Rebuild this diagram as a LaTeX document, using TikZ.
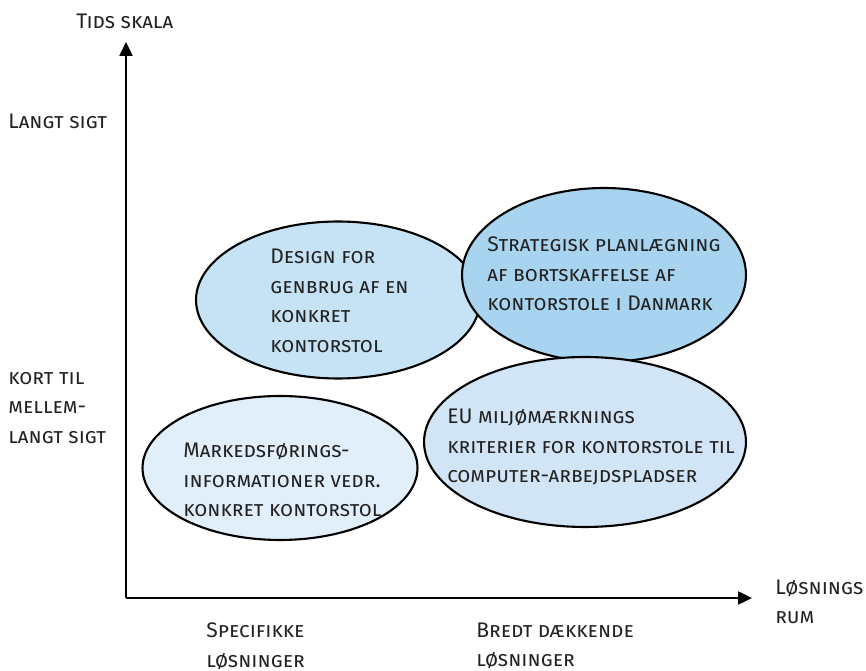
\documentclass[tikz,border=0pt]{standalone}
\usepackage{fontspec}
\setmainfont{Fira Sans}
\usepackage{tikz}
\usetikzlibrary{arrows.meta,shapes.geometric}

\definecolor{blobA}{HTML}{C6E2F5}
\definecolor{blobB}{HTML}{A9D4F0}
\definecolor{blobC}{HTML}{E1EFFB}
\definecolor{blobD}{HTML}{D2E5F6}
\definecolor{txtgray}{HTML}{222222}

\tikzset{
  axis/.style={line width=1.4pt, -{Triangle[length=0.28cm, width=0.26cm]}},
  blob/.style={ellipse, draw=black, line width=1.2pt, inner sep=0pt},
  lbl/.style={anchor=west, align=left, inner sep=0pt, text=txtgray,
    font=\fontsize{12}{16.8}\selectfont\scshape}
}

\begin{document}
\begin{tikzpicture}[x=0.02cm, y=-0.02cm]
          \useasboundingbox (0,0) rectangle (866,671);
          \coordinate (O) at (126,598);
          \coordinate (Ytop) at (126,42);
          \coordinate (Xend) at (752,598);

          \draw[axis] (O) -- (Ytop);
          \draw[axis] (O) -- (Xend);

          % ellipses, later ones drawn on top
          \node[blob, fill=blobA, minimum width=5.68cm, minimum height=3.14cm]
          (design) at (338,300) {};
          \node[blob, fill=blobB, minimum width=5.68cm, minimum height=3.48cm]
          (strat) at (604,275) {};
          \node[blob, fill=blobC, minimum width=5.5cm, minimum height=2.88cm]
          (marked) at (280,468) {};
          \node[blob, fill=blobD, minimum width=6.44cm, minimum height=3.4cm]
          (eu) at (585,442) {};

          \node[lbl] (designtxt) at (270,301)
          {Design for\\genbrug af en\\konkret\\kontorstol};
          \node[lbl] (strattxt) at (487,274)
          {Strategisk planlægning\\af bortskaffelse af\\kontorstole i Danmark};
          \node[lbl] (markedtxt) at (183,480)
          {Markedsførings-\\informationer vedr.\\konkret kontorstol};
          \node[lbl] (eutxt) at (447,447)
          {EU miljømærknings\\kriterier for kontorstole til\\computer-arbejdspladser};

          % axis labels
          \node[lbl] (tids) at (76,21) {Tids skala};
          \node[lbl] (langt) at (8,121) {Langt sigt};
          \node[lbl] (kort) at (8,408) {kort til\\mellem-\\langt sigt};
          \node[lbl] (spec) at (206,646) {Specifikke\\løsninger};
          \node[lbl] (bredt) at (476,646) {Bredt dækkende\\løsninger};
          \node[lbl] (rum) at (775,602) {Løsnings\\rum};
        \end{tikzpicture}
\end{document}
